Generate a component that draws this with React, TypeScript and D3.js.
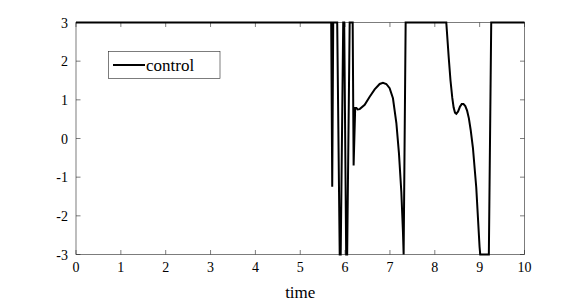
import React, { useEffect, useRef } from 'react';
import * as d3 from 'd3';

// control signal (time, value)
const times = [
  0, 5.69, 5.713, 5.735, 5.824, 5.88, 5.902, 5.958, 5.98, 6.024, 6.046, 6.102,
  6.169, 6.19, 6.225, 6.252, 6.28, 6.325, 6.437, 6.548, 6.659, 6.771, 6.844,
  6.919, 6.993, 7.067, 7.143, 7.2, 7.254, 7.29, 7.305, 7.35, 8.256, 8.28,
  8.31, 8.35, 8.39, 8.42, 8.45, 8.48, 8.52, 8.56, 8.6, 8.64, 8.68, 8.72,
  8.76, 8.8, 8.85, 8.924, 8.998, 9.013, 9.205, 9.258, 10,
];
const control = [
  3, 3, -1.25, 3, 3, -3, -3, 3, 3, -3, -3, 3,
  3, -0.7, 0.79, 0.79, 0.75, 0.76, 0.87, 1.08, 1.27, 1.41, 1.44,
  1.41, 1.3, 1.04, 0.4, -0.37, -1.39, -2.42, -3, 3, 3, 2.6,
  2.1, 1.5, 1.05, 0.8, 0.67, 0.64, 0.7, 0.82, 0.89, 0.89, 0.84, 0.72,
  0.52, 0.22, -0.24, -1.26, -2.8, -3, -3, 3, 3,
];
const xTicks = [0, 1, 2, 3, 4, 5, 6, 7, 8, 9, 10];
const yTicks = [-3, -2, -1, 0, 1, 2, 3];

export default function App() {
  const ref = useRef<SVGSVGElement>(null);

  useEffect(() => {
    const svg = d3.select(ref.current);
    svg.selectAll('*').remove();

    const left = 76, right = 524.5, top = 22.5, bottom = 254.5;
    const x = d3.scaleLinear().domain([0, 10]).range([left, right]);
    const y = d3.scaleLinear().domain([-3, 3]).range([bottom, top]);
    const font = "'Liberation Serif', 'DejaVu Serif', 'Noto Serif', Tinos, FreeSerif, 'Times New Roman', Times, serif";
    const axisColor = '#262626';

    const g = svg.append('g').attr('font-family', font);

    // box
    g.append('rect')
      .attr('x', left).attr('y', top)
      .attr('width', right - left).attr('height', bottom - top)
      .attr('fill', 'none').attr('stroke', axisColor).attr('stroke-width', 0.6);

    const tl = 4.5;
    xTicks.forEach(t => {
      g.append('line').attr('x1', x(t)).attr('x2', x(t)).attr('y1', bottom).attr('y2', bottom - tl)
        .attr('stroke', axisColor).attr('stroke-width', 0.6);
      g.append('line').attr('x1', x(t)).attr('x2', x(t)).attr('y1', top).attr('y2', top + tl)
        .attr('stroke', axisColor).attr('stroke-width', 0.6);
      g.append('text').attr('x', x(t)).attr('y', bottom + 17)
        .attr('text-anchor', 'middle').attr('font-size', 14)
        .attr('fill', '#000').text(String(t));
    });
    yTicks.forEach(v => {
      g.append('line').attr('x1', left).attr('x2', left + tl).attr('y1', y(v)).attr('y2', y(v))
        .attr('stroke', axisColor).attr('stroke-width', 0.6);
      g.append('line').attr('x1', right).attr('x2', right - tl).attr('y1', y(v)).attr('y2', y(v))
        .attr('stroke', axisColor).attr('stroke-width', 0.6);
      g.append('text').attr('x', left - 8).attr('y', y(v) + 5)
        .attr('text-anchor', 'end').attr('font-size', 14)
        .attr('fill', '#000').text(String(v));
    });

    g.append('text').attr('x', (left + right) / 2).attr('y', 298)
      .attr('text-anchor', 'middle').attr('font-size', 17)
      .attr('fill', '#000').text('time');

    const line = d3.line<number>()
      .x((_, i) => x(times[i]))
      .y(d => y(d));
    g.append('path').datum(control)
      .attr('d', line)
      .attr('fill', 'none').attr('stroke', '#000').attr('stroke-width', 2)
      .attr('stroke-linejoin', 'miter');

    // legend
    g.append('rect').attr('x', 108.5).attr('y', 51.5).attr('width', 111.5).attr('height', 27)
      .attr('fill', '#fff').attr('stroke', axisColor).attr('stroke-width', 0.6);
    g.append('line').attr('x1', 113).attr('x2', 145).attr('y1', 65).attr('y2', 65)
      .attr('stroke', '#000').attr('stroke-width', 2);
    g.append('text').attr('x', 146).attr('y', 71)
      .attr('font-size', 17).attr('fill', '#000').text('control');
  }, []);

  return (
    <svg ref={ref} width={581} height={302}
      style={{ position: 'absolute', left: 0, top: 0, background: '#fff' }} />
  );
}
